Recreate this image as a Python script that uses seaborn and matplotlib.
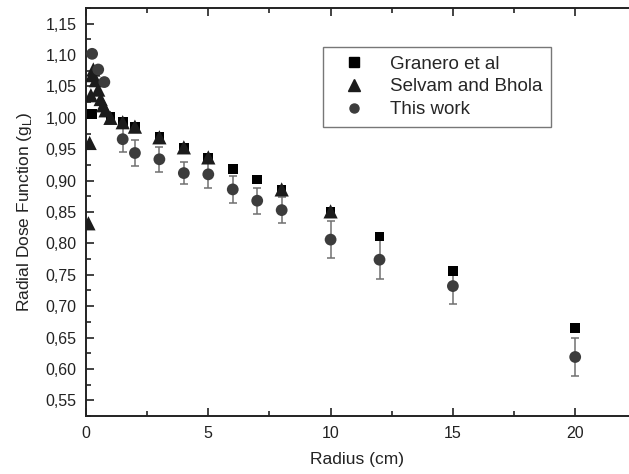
import matplotlib
matplotlib.use("Agg")
import matplotlib.pyplot as plt
import seaborn as sns
import pandas as pd
from matplotlib.lines import Line2D
from matplotlib.ticker import MultipleLocator

# Data
granero_r = [0.25, 1.0, 1.5, 2, 3, 4, 5, 6, 7, 8, 10, 12, 15, 20]
granero_g = [1.006, 1.002, 0.993, 0.986, 0.969, 0.953, 0.937, 0.919, 0.902, 0.885, 0.850, 0.811, 0.756, 0.665]

selvam_r = [0.1, 0.15, 0.2, 0.25, 0.3, 0.4, 0.5, 0.6, 0.7, 0.8, 1.0, 1.5, 2, 3, 4, 5, 8, 10]
selvam_g = [0.832, 0.960, 1.036, 1.068, 1.077, 1.060, 1.045, 1.030, 1.020, 1.012, 1.000,
            0.993, 0.986, 0.969, 0.953, 0.937, 0.886, 0.851]

work_r = [0.25, 0.5, 0.75, 1.5, 2, 3, 4, 5, 6, 7, 8, 10, 12, 15, 20]
work_g = [1.102, 1.077, 1.057, 0.966, 0.944, 0.934, 0.912, 0.910, 0.886, 0.868, 0.853, 0.806, 0.774, 0.732, 0.619]
work_err = [0.004, 0.004, 0.004, 0.020, 0.020, 0.020, 0.018, 0.022, 0.022, 0.021, 0.021, 0.029, 0.031, 0.029, 0.031]

yticks = [0.55, 0.60, 0.65, 0.70, 0.75, 0.80, 0.85, 0.90, 0.95, 1.00, 1.05, 1.10, 1.15]
ytick_labels = ["0,55", "0,60", "0,65", "0,70", "0,75", "0,80", "0,85", "0,90", "0,95",
                "1,00", "1,05", "1,10", "1,15"]
xticks = [0, 5, 10, 15, 20]

sns.set_style("ticks")
plt.rcParams['font.family'] = ['Liberation Sans', 'DejaVu Sans']

fig = plt.figure(figsize=(6.29, 4.74), dpi=100)
ax = fig.add_axes([86 / 629, 1 - 416 / 474, 1 - 86 / 629, 408 / 474])

# error bars first
ax.errorbar(work_r, work_g, yerr=work_err, fmt="none", ecolor="#707070",
            elinewidth=1.1, capsize=3, capthick=1.1, zorder=1)

df_gr = pd.DataFrame({"r": granero_r, "g": granero_g})
df_se = pd.DataFrame({"r": selvam_r, "g": selvam_g})
df_wk = pd.DataFrame({"r": work_r, "g": work_g})

sns.scatterplot(data=df_gr, x="r", y="g", marker="s", s=48, color="black",
                edgecolor="none", ax=ax, zorder=2)
sns.scatterplot(data=df_se, x="r", y="g", marker="^", s=105, color="#1c1c1c",
                edgecolor="none", ax=ax, zorder=3)
sns.scatterplot(data=df_wk, x="r", y="g", marker="o", s=72, color="#3c3c3c",
                edgecolor="none", ax=ax, zorder=4)

ax.set_xlim(0, 22.2)
ax.set_ylim(0.525, 1.175)
ax.set_xticks(xticks)
ax.set_xticklabels([str(t) for t in xticks])
ax.set_yticks(yticks)
ax.set_yticklabels(ytick_labels)
ax.xaxis.set_minor_locator(MultipleLocator(2.5))
ax.yaxis.set_minor_locator(MultipleLocator(0.025))

ax.tick_params(which="both", direction="in", top=True, right=False,
               labelsize=11.5, colors="#222222", width=1.2)
ax.tick_params(which="major", length=6, pad=7)
ax.tick_params(which="minor", length=3.5)

for side in ["left", "bottom", "top"]:
    ax.spines[side].set_linewidth(1.4)
    ax.spines[side].set_color("#222222")
ax.spines["right"].set_visible(False)

ax.set_xlabel("Radius (cm)", fontsize=12.5, color="#222222", labelpad=8)
ax.set_ylabel("Radial Dose Function (g$_\\mathregular{L}$)", fontsize=12.5,
              color="#222222", labelpad=8)

handles = [
    Line2D([], [], marker="s", ls="none", color="black", markersize=6.5),
    Line2D([], [], marker="^", ls="none", color="#1c1c1c", markersize=8.5),
    Line2D([], [], marker="o", ls="none", color="#3c3c3c", markersize=6.5),
]
leg = ax.legend(handles, ["Granero et al", "Selvam and Bhola", "This work"],
                loc="upper left", bbox_to_anchor=(237 / 543, 1 - 39 / 408),
                fontsize=13.5, frameon=True, fancybox=False, handletextpad=0.7,
                handlelength=2.4, borderpad=0.45, labelspacing=0.3, borderaxespad=0)
leg.get_frame().set_edgecolor("#555555")
leg.get_frame().set_linewidth(1.0)

fig.savefig("out.png", dpi=100)
